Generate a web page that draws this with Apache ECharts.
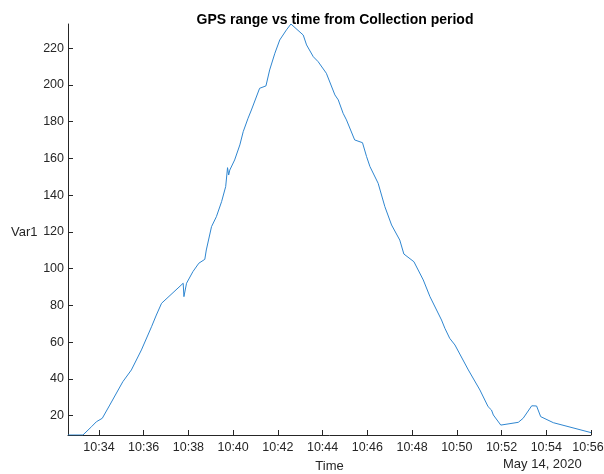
<!DOCTYPE html>
<html>
<head>
<meta charset="utf-8">
<script src="https://cdn.jsdelivr.net/npm/echarts@6/dist/echarts.min.js"></script>
<style>
  html, body { margin: 0; padding: 0; background: #fff; }
  #chart { width: 604px; height: 474px; }
</style>
</head>
<body>
<div id="chart"></div>
<script>
// GPS range samples, 14 May 2020 (clock time, range)
const times = [
  '10:32:37', '10:33:17', '10:33:40', '10:33:53', '10:34:09', '10:34:29', '10:35:04', '10:35:27',
  '10:35:54', '10:36:21', '10:36:34', '10:36:48', '10:37:46', '10:37:48', '10:37:55', '10:38:12',
  '10:38:28', '10:38:44', '10:38:48', '10:39:02', '10:39:15', '10:39:29', '10:39:40', '10:39:45',
  '10:39:48', '10:39:51', '10:40:04', '10:40:18', '10:40:27', '10:40:40', '10:40:49', '10:41:11',
  '10:41:28', '10:41:38', '10:41:52', '10:42:05', '10:42:23', '10:42:35', '10:43:08', '10:43:17',
  '10:43:35', '10:43:48', '10:44:10', '10:44:33', '10:44:42', '10:44:55', '10:45:04', '10:45:26',
  '10:45:47', '10:45:58', '10:46:07', '10:46:29', '10:46:47', '10:47:05', '10:47:27', '10:47:38',
  '10:48:05', '10:48:30', '10:48:48', '10:49:19', '10:49:28', '10:49:41', '10:49:55', '10:50:31',
  '10:51:02', '10:51:24', '10:51:33', '10:51:38', '10:51:58', '10:52:45', '10:52:58', '10:53:21',
  '10:53:34', '10:53:45', '10:54:19', '10:56:00'
];
const range = [
  9.5, 9.5, 14.0, 16.7, 18.6, 25.8, 38.5, 44.9,
  55.8, 68.4, 74.8, 81.2, 92.1, 84.8, 92.1, 98.4,
  103.0, 105.1, 110.2, 122.9, 128.3, 136.5, 144.7, 155.0,
  151.0, 153.7, 159.2, 167.4, 174.6, 181.9, 186.4, 198.2,
  199.5, 208.2, 217.3, 224.5, 230.0, 233.2, 227.2, 221.8,
  215.4, 212.7, 206.4, 194.6, 191.9, 184.6, 181.0, 170.1,
  168.6, 161.0, 155.6, 146.5, 133.8, 123.8, 115.6, 108.0,
  103.8, 93.9, 84.8, 72.1, 67.6, 62.1, 58.5, 44.9,
  34.0, 24.9, 23.1, 20.4, 14.9, 16.4, 18.6, 25.4,
  25.3, 19.5, 16.2, 10.8
];
const xTickTimes = ['10:34', '10:36', '10:38', '10:40', '10:42', '10:44', '10:46', '10:48', '10:50', '10:52', '10:54', '10:56'];
const yTicks = [20, 40, 60, 80, 100, 120, 140, 160, 180, 200, 220];
const yName = 'Var1';
const dateLabel = 'May 14, 2020';

// clock time -> seconds since midnight
const toSec = t => {
  const p = t.split(':').map(Number);
  return p[0] * 3600 + p[1] * 60 + (p[2] || 0);
};
const points = times.map((t, i) => [toSec(t), range[i]]);
const xTickSec = xTickTimes.map(toSec);
const lastTick = xTickSec[xTickSec.length - 1];
const pad = n => (n < 10 ? '0' : '') + n;
const clock = s => pad(Math.floor(s / 3600)) + ':' + pad(Math.floor((s % 3600) / 60));

const font = '"Liberation Sans", Arial, Helvetica, sans-serif';
const ink = '#262626';

const chart = echarts.init(document.getElementById('chart'), null, { renderer: 'canvas' });
chart.setOption({
  backgroundColor: '#ffffff',
  animation: false,
  title: {
    text: 'GPS range vs time from Collection period',
    left: 330, top: 8, textAlign: 'center',
    textStyle: { fontFamily: font, fontSize: 14, fontWeight: 'bold', color: '#000' }
  },
  grid: { left: 68, right: 13, top: 24, bottom: 39, containLabel: false, outerBoundsMode: 'none' },
  xAxis: {
    type: 'value',
    min: points[0][0],
    max: points[points.length - 1][0],
    name: 'Time',
    nameLocation: 'middle',
    nameGap: 25,
    nameTextStyle: { fontFamily: font, fontSize: 13, color: ink },
    axisLine: { show: true, lineStyle: { color: ink, width: 1 } },
    axisTick: { show: true, inside: true, length: 5, customValues: xTickSec, lineStyle: { color: ink } },
    axisLabel: {
      customValues: xTickSec, margin: 6, hideOverlap: false,
      fontFamily: font, fontSize: 12.5, color: ink,
      // keep the right-most label inside the canvas
      formatter: v => (v === lastTick ? '{end|' + clock(v) + '}' : clock(v)),
      rich: { end: { fontFamily: font, fontSize: 12.5, color: ink, padding: [0, 6, 0, 0] } }
    },
    splitLine: { show: false }
  },
  yAxis: {
    type: 'value',
    min: 9.5,
    max: 233.2,
    axisLine: { show: true, lineStyle: { color: ink, width: 1 } },
    axisTick: { show: true, inside: true, length: 5, customValues: yTicks, lineStyle: { color: ink } },
    axisLabel: { customValues: yTicks, margin: 4, fontFamily: font, fontSize: 12.5, color: ink },
    splitLine: { show: false }
  },
  graphic: [{
    type: 'text', left: 11, top: 226,
    style: { text: yName, font: '13px ' + font, fill: ink }
  }, {
    type: 'text', left: 503, top: 458,
    style: { text: dateLabel, font: '13px ' + font, fill: ink }
  }],
  series: [{
    type: 'line',
    data: points,
    showSymbol: false,
    lineStyle: { color: '#2f86d0', width: 1 },
    clip: true
  }]
});
</script>
</body>
</html>
